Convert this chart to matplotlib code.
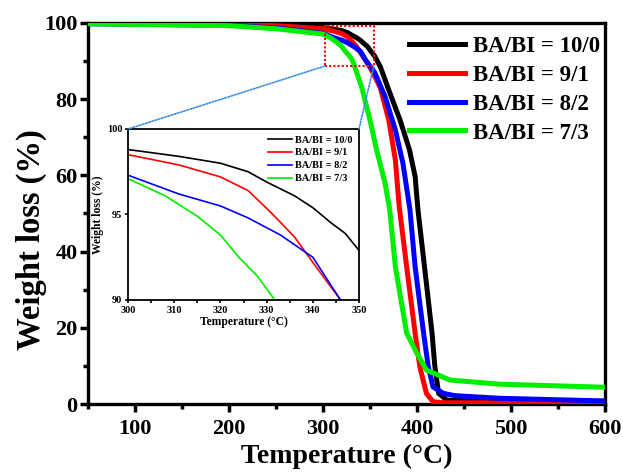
import matplotlib
matplotlib.use("AGG")
import matplotlib.pyplot as plt
from matplotlib.patches import Rectangle, ConnectionPatch

plt.rcParams['font.family'] = ['Liberation Serif', 'DejaVu Serif']
plt.rcParams['font.weight'] = 'bold'

labels = ['BA/BI = 10/0', 'BA/BI = 9/1', 'BA/BI = 8/2', 'BA/BI = 7/3']
colors = ['black', 'red', 'blue', '#00ee00']

# temperature (C) / weight (%)
t_10_0 = [50, 200, 250, 300, 311, 320, 326, 330, 336, 340, 344, 347, 350, 355, 361, 370,
          382, 392, 398, 401, 408, 416, 419, 423, 432, 500, 600]
w_10_0 = [99.9, 99.7, 99.4, 98.8, 98.4, 98.0, 97.5, 96.9, 96.1, 95.4, 94.5, 93.9, 92.9,
          91.3, 88.5, 82.4, 74.5, 66.7, 59.7, 51, 36, 18.6, 9.8, 2.8, 1.0, 0.8, 0.7]

t_9_1 = [50, 200, 250, 300, 311, 320, 326, 331, 336, 340, 346, 352, 361, 370, 377, 381,
         389, 398, 403, 410, 417, 430, 600]
w_9_1 = [99.9, 99.6, 99.3, 98.5, 97.9, 97.2, 96.4, 95.1, 93.7, 92.2, 90.0, 87.5, 83, 74.5,
         64, 52, 36, 18.6, 9.8, 2.8, 0.6, 0.3, 0.3]

t_8_2 = [50, 200, 250, 300, 311, 320, 326, 333, 340, 346, 355, 366, 377, 385, 392.5, 398,
         407, 412, 417, 428, 440, 488, 600]
w_8_2 = [99.8, 99.4, 98.7, 97.3, 96.2, 95.5, 94.8, 93.8, 92.5, 90.0, 87, 80.7, 71.9, 63.2,
         51, 36, 18.6, 9.8, 4.5, 2.8, 2.2, 1.5, 0.8]

t_7_3 = [50, 200, 250, 300, 308, 315, 320, 324, 328, 331.5, 341, 350, 357, 366, 371, 377,
         389, 398, 410, 435, 488, 600]
w_7_3 = [99.8, 99.3, 98.5, 97.1, 96.1, 94.9, 93.8, 92.5, 91.4, 90.1, 83.3, 74.5, 66.7, 58,
         51, 36, 18.6, 14.2, 8.9, 6.3, 5.2, 4.4]

series = [(t_10_0, w_10_0), (t_9_1, w_9_1), (t_8_2, w_8_2), (t_7_3, w_7_3)]

fig = plt.figure(figsize=(6.23, 4.73), dpi=100)
ax = fig.add_axes([88 / 623, 1 - 404 / 473, (605 - 88) / 623, (404 - 23) / 473])

for (t, w), c, lab in zip(series, colors, labels):
    ax.plot(t, w, color=c, lw=3.6, label=lab, zorder=3)

ax.set_xlim(50, 600)
ax.set_ylim(0, 100)
ax.set_xticks([100, 200, 300, 400, 500, 600])
ax.set_xticks(range(50, 601, 50), minor=True)
ax.set_yticks([0, 20, 40, 60, 80, 100])
ax.set_yticks(range(0, 101, 10), minor=True)
ax.tick_params(which='major', direction='out', length=5.5, width=2.5, labelsize=16)
ax.tick_params(which='minor', direction='out', length=3.5, width=2.5)
ax.tick_params(axis='x', which='major', pad=5)
ax.tick_params(axis='y', which='major', pad=2)
for s in ax.spines.values():
    s.set_linewidth(2.4)
ax.set_xlabel('Temperature (°C)', fontsize=20, fontweight='bold', labelpad=4)
ax.set_ylabel('Weight loss (%)', fontsize=23.5, fontweight='bold')
ax.yaxis.set_label_coords(-(88 - 47) / 517, (404 - 240) / 381)
ax.legend(loc='upper right', frameon=False, fontsize=16.5, handlelength=2.45,
          handletextpad=0.35, labelspacing=0.34, borderaxespad=0, borderpad=0.4,
          bbox_to_anchor=(1.008, 0.99))

# zoom box
ax.add_patch(Rectangle((302, 88.7), 52, 10.6, fill=False, ec='red', lw=1.5,
                       ls=(0, (1, 1)), zorder=4))

# inset
ins = fig.add_axes([128 / 623, 1 - 300 / 473, (359 - 128) / 623, (300 - 129) / 473])
for (t, w), c, lab in zip(series, colors, labels):
    ins.plot(t, w, color=c, lw=1.2, label=lab)
ins.set_xlim(300, 350)
ins.set_ylim(90, 100)
ins.set_xticks(range(300, 351, 10))
ins.set_xticks(range(305, 351, 10), minor=True)
ins.set_yticks([90, 95, 100])
ins.tick_params(which='both', direction='out', length=2.5, width=1.2, labelsize=7.5, pad=1.5)
for s in ins.spines.values():
    s.set_linewidth(1.3)
ins.set_xlabel('Temperature (°C)', fontsize=8.4, fontweight='bold', labelpad=1)
ins.set_ylabel('Weight loss (%)', fontsize=8.4, fontweight='bold', labelpad=2)
ins.legend(loc='upper right', frameon=False, fontsize=7.5, handlelength=2.3,
           handletextpad=0.3, labelspacing=0.35, borderaxespad=0.2)

for xa, xb in [((302, 88.7), (0, 1)), ((354, 88.7), (1, 1))]:
    con = ConnectionPatch(xyA=xa, coordsA=ax.transData, xyB=xb, coordsB=ins.transAxes,
                          color='#3a8ee6', lw=1.2, ls=(0, (1, 1)), zorder=2)
    fig.add_artist(con)

fig.savefig('out.png', dpi=100)
